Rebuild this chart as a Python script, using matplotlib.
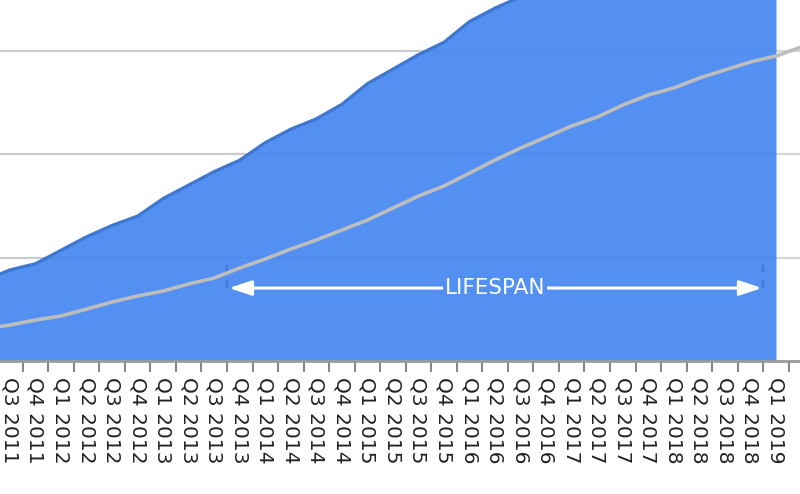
import matplotlib
matplotlib.use('Agg')
import matplotlib.pyplot as plt
import numpy as np

quarters = ['Q2 2011', 'Q3 2011', 'Q4 2011',
            'Q1 2012', 'Q2 2012', 'Q3 2012', 'Q4 2012',
            'Q1 2013', 'Q2 2013', 'Q3 2013', 'Q4 2013',
            'Q1 2014', 'Q2 2014', 'Q3 2014', 'Q4 2014',
            'Q1 2015', 'Q2 2015', 'Q3 2015', 'Q4 2015',
            'Q1 2016', 'Q2 2016', 'Q3 2016', 'Q4 2016',
            'Q1 2017', 'Q2 2017', 'Q3 2017', 'Q4 2017',
            'Q1 2018', 'Q2 2018', 'Q3 2018', 'Q4 2018',
            'Q1 2019', 'Q2 2019']

total = [78, 88, 94, 107, 120, 131, 140, 157, 170, 183, 194, 211, 224, 234,
         248, 268, 282, 296, 308, 328, 341, 352, 363, 375, 388, 398, 410, 420,
         432, 443, 455, 465]

baseline = [31, 34.8, 39.6, 43.5, 50.2, 57, 62.8, 67.6, 74.4, 80.2, 89.9,
            98.6, 108.2, 116.9, 126.6, 136.2, 147.8, 159.4, 169.1, 181.6,
            194.2, 205.8, 216.4, 227.1, 235.7, 247.3, 257, 263.8, 273.4,
            281.2, 288.9, 294.7, 303.4]

grid_values = [100, 200, 300]
lifespan_start = 'Q4 2013'
lifespan_end = 'Q1 2019'
lifespan_label = 'LIFESPAN'
arrow_level = 70.5
marker_range = (71.5, 93)

AREA = '#5390f2'
XLIM = (0.612, 31.94)
YLIM = (0, 348.8)

fig = plt.figure(figsize=(8, 4.94), dpi=100)
ax = fig.add_axes([0, 0.2692, 1, 0.7308])
x = np.arange(len(quarters))
xa = x[:len(total)]

ax.set_xticks(x)
ax.set_xticklabels(quarters, rotation=270, fontsize=14.5, color='#222222')
ax.tick_params(axis='x', which='major', length=0, pad=11.5)
ax.set_xticks(x - 0.5, minor=True)
ax.tick_params(axis='x', which='minor', length=8, width=1.5, color='#888888')
ax.set_yticks(grid_values)
ax.tick_params(axis='y', length=0, labelleft=False)

for g in grid_values:
    ax.axhline(g, color='#d4d4d4', lw=1.6, zorder=1)
    ax.hlines(g, XLIM[0] - 1, xa[-1], color='#2a5aa8', lw=1.5, alpha=0.07, zorder=2.5)

ax.fill_between(xa, 0, total, color=AREA, zorder=2, linewidth=0)
ax.plot(xa, total, color='#3f76cf', lw=2.3, zorder=3, solid_capstyle='butt')
ax.plot(x, baseline, color='#bdbdbd', lw=2.6, zorder=4, solid_capstyle='butt')

s = quarters.index(lifespan_start) - 0.5
e = quarters.index(lifespan_end) - 0.5
for xm in (s, e):
    ax.plot([xm, xm], list(marker_range), color='#3f6fc0', lw=1.5,
            ls=(0, (3.5, 3.5)), alpha=0.7, zorder=3)
ax.annotate('', xy=(s + 0.08, arrow_level), xytext=(e - 0.05, arrow_level),
            arrowprops=dict(arrowstyle='<|-|>,head_length=0.9,head_width=0.3',
                            color='white', lw=2.2, shrinkA=0, shrinkB=0,
                            mutation_scale=15), zorder=5)
ax.text((s + e) / 2, arrow_level, lifespan_label, ha='center', va='center',
        color='white', fontsize=15.5, family='DejaVu Sans', zorder=6,
        bbox=dict(facecolor=AREA, edgecolor='none', pad=1.5))

for side in ('top', 'left', 'right'):
    ax.spines[side].set_visible(False)
ax.spines['bottom'].set_color('#999999')
ax.spines['bottom'].set_linewidth(2)
ax.spines['bottom'].set_zorder(6)

ax.set_xlim(*XLIM)
ax.set_ylim(*YLIM)

fig.savefig('out.png', dpi=100)
